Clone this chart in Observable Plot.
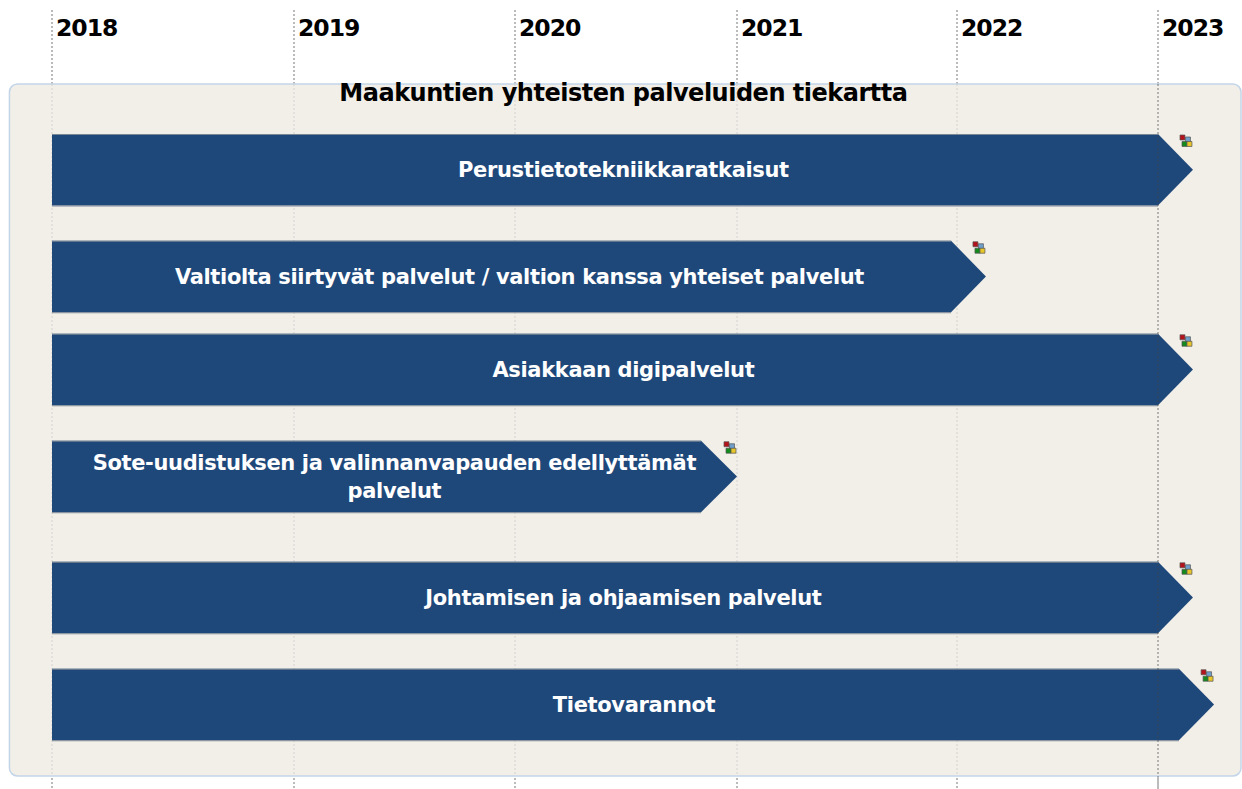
<!DOCTYPE html>
<html><head><meta charset="utf-8">
<script src="https://cdn.jsdelivr.net/npm/d3@7"></script>
<script src="https://cdn.jsdelivr.net/npm/@observablehq/plot@0.6"></script>
<style>html,body{margin:0;padding:0;background:#fff}svg{display:block}
.yr text,text.yr,.yr{letter-spacing:-1px}
.ttl text,text.ttl,.ttl{letter-spacing:-0.5px}
.lbl text,text.lbl,.lbl{letter-spacing:-0.35px}
</style>
</head><body>
<script>
const years = [2018, 2019, 2020, 2021, 2022, 2023];
const yearLabels = ["2018", "2019", "2020", "2021", "2022", "2023"];
const names = [
  "Perustietotekniikkaratkaisut",
  "Valtiolta siirtyvät palvelut / valtion kanssa yhteiset palvelut",
  "Asiakkaan digipalvelut",
  "Sote-uudistuksen ja valinnanvapauden edellyttämät\npalvelut",
  "Johtamisen ja ohjaamisen palvelut",
  "Tietovarannot"
];
const lanes = [0, 1.493, 2.794, 4.29, 5.983, 7.479];
const starts = [2018, 2018, 2018, 2018, 2018, 2018];
const shoulders = [2023, 2021.973, 2023, 2020.838, 2023, 2023.104];
const ends = [2023.174, 2022.144, 2023.174, 2021, 2023.174, 2023.279];
const labelAt = [2020.486, 2020.018, 2020.486, 2019.452, 2020.486, 2020.534];
const title = "Maakuntien yhteisten palveluiden tiekartta";

const tasks = names.map((name, i) => ({name, lane: lanes[i], start: starts[i], shoulder: shoulders[i], end: ends[i], at: labelAt[i]}));
const outline = tasks.flatMap(t => [
  {name: t.name, x: t.start, y1: t.lane - 0.5, y2: t.lane + 0.5},
  {name: t.name, x: t.shoulder, y1: t.lane - 0.5, y2: t.lane + 0.5},
  {name: t.name, x: t.end, y1: t.lane, y2: t.lane}
]);
const font = "'DejaVu Sans', sans-serif";
const iconParts = [
  {fill: "#b5121b", dx: -11, dy: 3},
  {fill: "#6f9fcb", dx: -5.5, dy: 5},
  {fill: "#138a1c", dx: -9, dy: 9.5},
  {fill: "#e8c52a", dx: -4, dy: 9.5}
];

const chart = Plot.plot({
  width: 1242, height: 789,
  margin: 0,
  style: {background: "#fff", fontFamily: font},
  x: {type: "linear", domain: [2017.785, ...years, 2023.418], range: [0, 52, 294, 515, 737, 957, 1158, 1242], axis: null},
  y: {domain: [-2.374, 8.661], range: [0, 789], axis: null},
  marks: [
    Plot.ruleX(years, {x: d => d, y1: -2.234, y2: 8.661, stroke: "#777", strokeWidth: 1, strokeDasharray: "2,2", dx: -0.5}),
    Plot.rect([{}], {x1: 2017.824, x2: 2023.413, y1: -1.199, y2: 8.479, fill: "#f2efe9", stroke: "#c3d5e8", strokeWidth: 1.5, rx: 8}),
    Plot.ruleX(years.slice(0, 5), {x: d => d, y1: -1.199, y2: 8.479, stroke: "#d2d2cf", strokeWidth: 1, strokeDasharray: "2,2", dx: -0.5}),
    Plot.areaY(outline, {x: "x", y1: "y1", y2: "y2", z: "name", fill: "#1f487a", curve: "linear"}),
    Plot.ruleY(tasks, {y: d => d.lane - 0.5, x1: "start", x2: "shoulder", stroke: "#7b8794", strokeWidth: 1}),
    Plot.ruleY(tasks, {y: d => d.lane + 0.5, x1: "start", x2: "shoulder", stroke: "#7b8794", strokeWidth: 1}),
    Plot.ruleX([2023], {x: d => d, y1: -1.199, y2: 8.661, stroke: "#444", strokeOpacity: 0.7, strokeWidth: 1, strokeDasharray: "2,2", dx: -0.5}),
    ...iconParts.map(p => Plot.dot(tasks, {x: "end", y: d => d.lane - 0.5, symbol: "square", r: 2.8, fill: p.fill, stroke: "#555", strokeWidth: 0.7, dx: p.dx, dy: p.dy})),
    Plot.text(years, {x: d => d, y: -1.982, text: (d, i) => yearLabels[i], textAnchor: "start", dx: 3.5, fontSize: 23.5, fontWeight: "bold", fill: "#000", className: "yr"}),
    Plot.text([title], {x: 2020.486, y: -1.087, dy: 1, text: d => d, fontSize: 24, fontWeight: "bold", fill: "#000", className: "ttl"}),
    Plot.text(tasks, {x: "at", y: "lane", text: "name", dy: -2, fontSize: 21, fontWeight: "bold", fill: "#fff", lineHeight: 1.33, className: "lbl"})
  ]
});
document.body.appendChild(chart);
</script>
</body></html>
